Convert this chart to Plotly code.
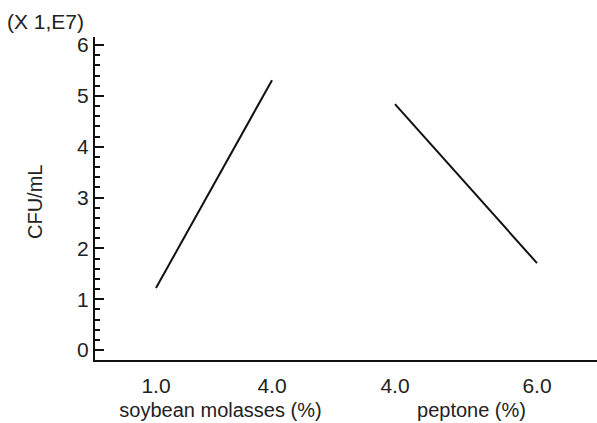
import plotly.graph_objects as go

# Data
soy_x = [1.0, 4.0]
soy_y = [1.22, 5.31]
pep_x = [4.0, 6.0]
pep_y = [4.84, 1.71]

soy_ticks = [1.0, 4.0]
pep_ticks = [4.0, 6.0]
y_ticks = [0, 1, 2, 3, 4, 5, 6]

font = dict(family="Liberation Sans, Arial, sans-serif", size=21, color="#222")
title_font = dict(family="Liberation Sans, Arial, sans-serif", size=20, color="#222")

fig = go.Figure()
fig.add_trace(go.Scatter(x=soy_x, y=soy_y, mode="lines", xaxis="x", yaxis="y",
                         line=dict(color="#111", width=2), showlegend=False))
fig.add_trace(go.Scatter(x=pep_x, y=pep_y, mode="lines", xaxis="x2", yaxis="y",
                         line=dict(color="#111", width=2), showlegend=False))

axis_common = dict(showgrid=False, zeroline=False, showline=True, linecolor="#111", linewidth=2,
                   ticks="outside", ticklen=6, tickcolor="rgba(0,0,0,0)", tickfont=font,
                   tickformat=".1f", title_font=title_font, title_standoff=7)

fig.update_layout(
    width=597, height=423,
    margin=dict(l=95, r=0, t=37, b=63),
    plot_bgcolor="white", paper_bgcolor="white",
    font=font,
    xaxis=dict(domain=[0, 0.5], range=[-0.577, 5.914], tickvals=soy_ticks,
               title_text="soybean molasses (%)", anchor="y", **axis_common),
    xaxis2=dict(domain=[0.5, 1.0], range=[3.31, 6.845], tickvals=pep_ticks,
                title_text="peptone (%)", anchor="y", **axis_common),
    yaxis=dict(range=[-0.197, 6.16], tickvals=y_ticks, showgrid=False, zeroline=False,
               showline=True, linecolor="#111", linewidth=2,
               ticks="inside", ticklen=9, tickwidth=2, tickcolor="#111", tickfont=font,
               minor=dict(dtick=0.2, tick0=0, ticks="inside", ticklen=5, tickwidth=1.5, tickcolor="#111")),
    annotations=[
        dict(text="CFU/mL", textangle=-90, xref="paper", yref="paper",
             x=(35 - 95) / 502, y=(360 - 202) / 323, xanchor="center", yanchor="middle",
             showarrow=False, font=title_font),
        dict(text="(X 1,E7)", xref="paper", yref="paper",
             x=(5 - 95) / 502, y=(360 - 21) / 323, xanchor="left", yanchor="middle",
             showarrow=False, font=font),
    ],
)

fig.write_html("out.html")
